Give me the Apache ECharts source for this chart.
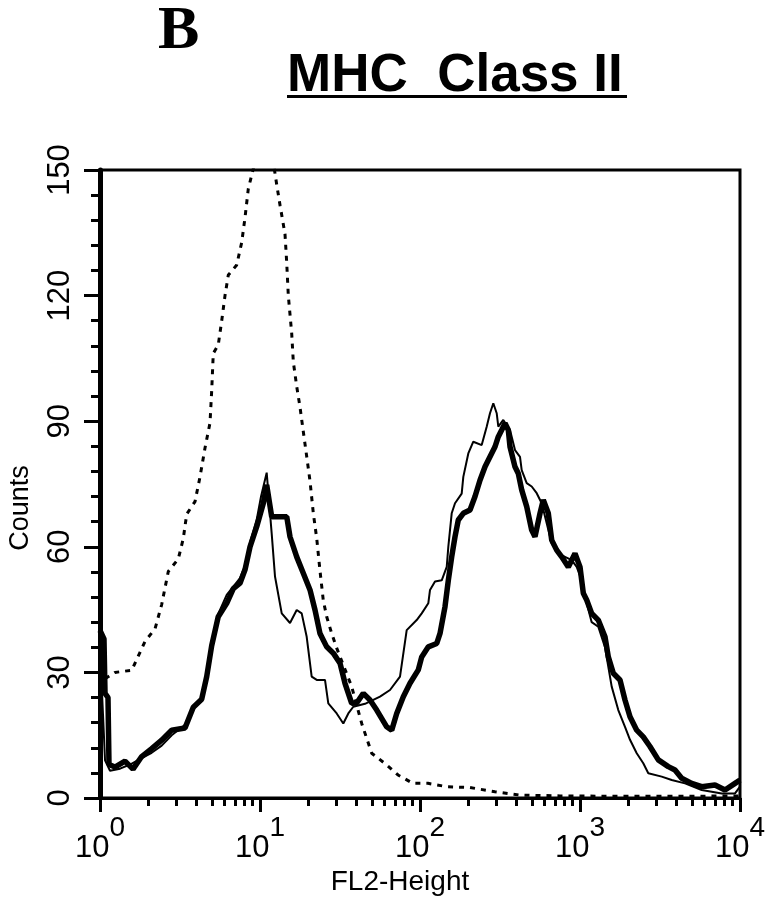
<!DOCTYPE html>
<html><head><meta charset="utf-8">
<script src="https://cdn.jsdelivr.net/npm/echarts@6/dist/echarts.min.js"></script>
<style>html,body{margin:0;padding:0;background:#fff}#c{width:765px;height:900px}</style>
</head><body><div id="c"></div>
<script>
// Isotype control (dotted)
const isotypeFL2 = [1.075, 1.241, 1.578, 1.734, 1.911, 2.207, 2.430, 2.549, 2.672, 3.086, 3.316, 3.483, 3.924, 4.217, 4.532, 4.870, 4.990, 5.105, 5.483, 5.764, 6.043, 6.337, 7.151, 7.685, 8.058, 8.450, 9.306, 10.29, 11.55, 12.72, 13.34, 14.33, 14.69, 15.03, 15.78, 16.15, 16.96, 17.78, 18.65, 19.58, 20.54, 21.54, 22.62, 23.71, 24.86, 26.12, 28.06, 30.16, 37.42, 43.22, 49.90, 61.94, 72.87, 90.42, 112.2, 146.9, 205.4, 294.3, 421.7, 749.9, 1778, 4217, 9857];
const isotypeCounts = [28.5, 30, 30.5, 33.9, 37.4, 40.4, 46.2, 50.2, 54.1, 57.1, 62, 67.8, 70.8, 76.7, 83.6, 89.6, 97.3, 106.2, 108.2, 114, 120, 124.9, 127.3, 132.7, 138.6, 145.5, 152, 156, 157, 146.5, 141.6, 134.7, 127.8, 120, 111, 104.2, 98.3, 93.4, 87.5, 81.6, 75.7, 68, 62, 54.3, 47.2, 43.3, 39.3, 35.8, 26.6, 17.8, 10.7, 7.9, 5.5, 3.5, 3.5, 2.7, 2.5, 1.5, 0.7, 0.5, 0.4, 0.4, 0.5];

// Thin solid histogram
const thinFL2 = [1, 1.044, 1.075, 1.155, 1.334, 1.540, 1.822, 2.104, 2.430, 2.806, 3.398, 3.829, 4.321, 4.644, 4.990, 5.483, 6.193, 6.810, 7.499, 8.058, 8.660, 9.536, 10.15, 11.01, 11.83, 12.41, 13.67, 15.40, 16.96, 18.22, 19.58, 21.04, 22.62, 25.48, 26.72, 30.16, 33.16, 35.64, 38.29, 45.32, 56.23, 64.94, 74.99, 82.58, 95.36, 102.5, 112.7, 115.5, 124.1, 136.7, 146.9, 150.3, 157.8, 165.5, 182.2, 186.5, 200.4, 215.3, 243.0, 261.1, 273.8, 287.2, 301.6, 308.6, 331.6, 365.2, 392.4, 421.7, 432.1, 464.4, 499.0, 536.3, 576.3, 619.3, 665.5, 731.8, 805.8, 887.4, 953.6, 1025, 1101, 1183, 1301, 1433, 1578, 1735, 1911, 2054, 2262, 2486, 2672, 3241, 3742, 4532, 5763, 7684, 9306, 10000];
const thinCounts = [36, 20, 9, 6.5, 7, 8, 9.5, 10.8, 12.5, 15, 17.5, 21, 24.2, 30, 37.5, 44, 48.5, 50.5, 52.5, 55.5, 61, 66.5, 72, 77.7, 63.2, 52.9, 44.1, 41.8, 44.9, 44.1, 38.5, 29, 28.2, 28.2, 22.6, 20.2, 17.8, 20.2, 21.8, 22.5, 24.2, 25.8, 29, 40.1, 42.5, 44.1, 46.5, 49.7, 51.7, 52, 55.2, 60, 68, 70.4, 72.7, 76.7, 82.3, 85.1, 84.3, 88.7, 91.9, 94.3, 91.9, 88.7, 90.3, 87.9, 83.1, 81.5, 78.3, 75.2, 74.4, 72.8, 70.4, 65.6, 60.8, 58.4, 57.6, 56.8, 55.2, 52, 46.5, 42, 40.9, 36, 26.6, 21, 17, 13.9, 10.7, 8.3, 5.9, 5.1, 4.3, 3.5, 1.9, 1.1, 1.1, 2.7];

// Thick solid histogram
const thickFL2 = [1, 1.059, 1.075, 1.122, 1.138, 1.241, 1.433, 1.608, 1.822, 2.104, 2.430, 2.806, 3.398, 3.829, 4.321, 4.644, 4.990, 5.483, 6.193, 6.810, 7.499, 8.058, 8.660, 9.536, 10.49, 11.01, 11.83, 13.34, 14.69, 15.40, 16.96, 18.65, 20.54, 22.07, 23.71, 26.12, 28.72, 31.62, 33.98, 37.42, 40.22, 44.22, 48.70, 53.63, 61.94, 66.55, 71.51, 78.64, 86.60, 97.58, 102.5, 112.7, 127.2, 133.4, 143.3, 150.3, 157.8, 165.5, 173.5, 186.5, 205.4, 220.7, 237.1, 254.9, 273.8, 294.3, 308.6, 324.1, 339.8, 356.4, 365.2, 392.4, 411.5, 432.1, 464.4, 499.0, 523.3, 562.3, 589.7, 633.8, 665.5, 715.1, 768.4, 845.1, 930.6, 1000, 1049, 1101, 1183, 1301, 1433, 1503, 1615, 1778, 1911, 2054, 2262, 2486, 2738, 3086, 3564, 3924, 4321, 4990, 5763, 6978, 8058, 9306, 10000];
const thickCounts = [40, 38, 25, 24, 8, 7.4, 8.8, 6.9, 9.9, 11.8, 13.8, 16.2, 16.7, 21.7, 23.6, 29, 36.4, 43.3, 46.5, 50, 51.3, 54.5, 60, 64.8, 70.4, 74.8, 67.2, 67.2, 67.2, 62.4, 57.6, 53.7, 49.7, 44.9, 39.3, 36.1, 34.6, 32.2, 27.4, 22.6, 22.7, 25, 23.4, 21, 17, 16.2, 20.2, 24.2, 27.4, 30.6, 33.7, 36.1, 36.9, 39.3, 45.7, 52, 57.6, 62.4, 66.4, 68, 68.8, 72, 75.9, 79.1, 81.5, 83.9, 86.3, 87.9, 89.5, 87.9, 83.9, 79.1, 77.5, 73.6, 69.6, 64, 62.4, 68, 71.2, 68, 61.6, 59.2, 57.6, 55.2, 58.4, 55.2, 48.9, 47.3, 44.1, 42.5, 38.5, 33.7, 29.8, 28.2, 23.4, 19.4, 16.2, 14.6, 12.3, 9.1, 7.5, 6.7, 4.7, 3.5, 2.7, 3.1, 1.9, 3.5, 4.3];

// Axis ticks
const xDecades = [1, 10, 100, 1000, 10000];
const xMinorTicks = [2,3,4,5,6,7,8,9, 20,30,40,50,60,70,80,90, 200,300,400,500,600,700,800,900, 2000,3000,4000,5000,6000,7000,8000,9000];
const yTicks = [0, 30, 60, 90, 120, 150];

const FONT = "'Liberation Sans', Arial, Helvetica, sans-serif";
const pairs = (xs, ys) => xs.map((x, i) => [x, ys[i]]);

const chart = echarts.init(document.getElementById('c'), null, {renderer: 'canvas'});
chart.setOption({
  animation: false,
  backgroundColor: '#fff',
  title: [
    {text: 'B', left: 158, top: 1, padding: 0,
     textStyle: {fontFamily: "'Liberation Serif', 'Times New Roman', serif", fontWeight: 'bold', fontSize: 62, color: '#000'}},
    {text: 'MHC  Class II', left: 287, top: 50, padding: 0,
     textStyle: {fontFamily: FONT, fontWeight: 'bold', fontSize: 53, color: '#000'}}
  ],
  graphic: [
    {type: 'rect', shape: {x: 287, y: 95, width: 340, height: 3}, style: {fill: '#000'}}
  ],
  grid: {left: 100, right: 25, top: 170, bottom: 102, show: true, borderColor: '#000', borderWidth: 3, backgroundColor: 'transparent', outerBoundsMode: 'none'},
  xAxis: [
    {
      type: 'log', logBase: 10, min: xDecades[0], max: xDecades[xDecades.length - 1],
      position: 'bottom',
      name: 'FL2-Height', nameLocation: 'middle', nameGap: 69,
      nameTextStyle: {fontFamily: FONT, fontSize: 28, color: '#000', padding: [0, 40, 0, 0]},
      axisLine: {show: true, lineStyle: {color: '#000', width: 3}},
      axisTick: {show: true, length: 14, lineStyle: {color: '#000', width: 3}},
      minorTick: {show: false},
      splitLine: {show: false},
      axisLabel: {
        show: true, margin: 16, color: '#000',
        formatter: v => '{b|10}{s|' + Math.round(Math.log10(v)) + '}',
        rich: {
          b: {fontFamily: FONT, fontSize: 31, lineHeight: 68, color: '#000'},
          s: {fontFamily: FONT, fontSize: 28, lineHeight: 28, verticalAlign: 'top', color: '#000'}
        }
      }
    },
    {
      type: 'value', min: 0, max: 4, position: 'bottom', show: true,
      axisLine: {show: false},
      axisLabel: {show: false},
      splitLine: {show: false},
      axisTick: {show: true, length: 8, customValues: xMinorTicks.map(v => Math.log10(v)), lineStyle: {color: '#000', width: 3}}
    }
  ],
  yAxis: {
    type: 'value', min: yTicks[0], max: yTicks[yTicks.length - 1], interval: 30,
    name: 'Counts', nameLocation: 'middle', nameGap: 66, nameRotate: 90,
    nameTextStyle: {fontFamily: FONT, fontSize: 27, color: '#000', padding: [0, 48, 0, 0]},
    axisLine: {show: true, lineStyle: {color: '#000', width: 5}},
    axisTick: {show: true, length: 16, lineStyle: {color: '#000', width: 3}},
    minorTick: {show: true, splitNumber: 5, length: 9, lineStyle: {color: '#000', width: 3}},
    splitLine: {show: false},
    axisLabel: {rotate: 90, margin: 24, fontFamily: FONT, fontSize: 31, color: '#000',
      customValues: yTicks}
  },
  series: [
    {name: 'isotype', type: 'line', xAxisIndex: 0, data: pairs(isotypeFL2, isotypeCounts), showSymbol: false, clip: true,
     lineStyle: {color: '#000', width: 3, type: [5, 6], cap: 'butt'}},
    {name: 'thin', type: 'line', xAxisIndex: 0, data: pairs(thinFL2, thinCounts), showSymbol: false, clip: true,
     lineStyle: {color: '#000', width: 2}},
    {name: 'thick', type: 'line', xAxisIndex: 0, data: pairs(thickFL2, thickCounts), showSymbol: false, clip: true,
     lineStyle: {color: '#000', width: 5.5}}
  ]
});
</script></body></html>
